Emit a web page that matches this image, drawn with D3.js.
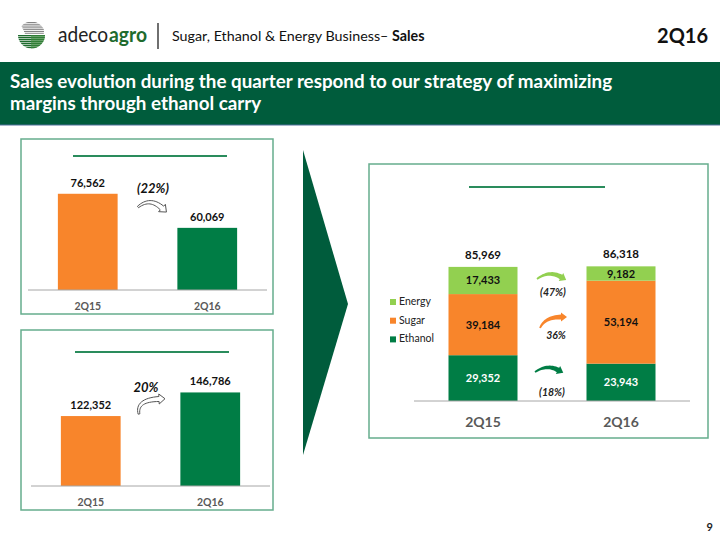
<!DOCTYPE html>
<html><head><meta charset="utf-8">
<script src="https://cdn.jsdelivr.net/npm/d3@7"></script>
<style>body{margin:0;background:#fff}svg{display:block}text{font-family:Lato,"Open Sans",sans-serif}</style>
</head><body>
<div id="chart"></div>
<script>
// ---- data ----
const categories = ["2Q15", "2Q16"];
const panelAValues = [76562, 60069];
const panelAChange = "(22%)";
const panelBValues = [122352, 146786];
const panelBChange = "20%";
const seriesNames = ["Ethanol", "Sugar", "Energy"];
const ethanol = [29352, 23943];
const sugar = [39184, 53194];
const energy = [17433, 9182];
const totals = [85969, 86318];
const seriesChanges = ["(18%)", "36%", "(47%)"];

const C = {orange:"#F8852B", green:"#007D45", light:"#92D050", dark:"#005C3C", border:"#66AD8D", title:"#2A8C5C", axis:"#A6A6A6", gray:"#595959"};
const fmt = d3.format(",");

const svg = d3.select("#chart").append("svg").attr("width",720).attr("height",540);

// ---- header ----
const defs = svg.append("defs");
defs.append("clipPath").attr("id","lc").append("circle").attr("cx",31.5).attr("cy",35).attr("r",13.5);
const lg = svg.append("g").attr("clip-path","url(#lc)");
lg.append("rect").attr("x",17).attr("y",21).attr("width",29).attr("height",29).attr("fill","#fff");
d3.range(7).forEach(i=>lg.append("rect").attr("x",20+i*0.8).attr("y",22+i*1.8).attr("width",25-i).attr("height",0.9).attr("fill","#777"));
d3.range(7).forEach(i=>lg.append("rect").attr("x",17).attr("y",35+i*2).attr("width",29).attr("height",1.4).attr("fill","#1E6B2E"));
lg.append("rect").attr("x",31).attr("y",35).attr("width",15).attr("height",15).attr("fill","#3D8A3D").attr("opacity",0.6);
svg.append("text").attr("x",58).attr("y",42).attr("font-size",21).attr("textLength",50).attr("lengthAdjust","spacingAndGlyphs")
  .attr("fill","#222").text("adeco");
svg.append("text").attr("x",109).attr("y",42).attr("font-size",21).attr("font-weight","bold").attr("textLength",38).attr("lengthAdjust","spacingAndGlyphs")
  .attr("fill","#1E6B2E").text("agro");
svg.append("line").attr("x1",158).attr("x2",158).attr("y1",23).attr("y2",49).attr("stroke","#222").attr("stroke-width",1.3);
const sub = svg.append("text").attr("x",172).attr("y",41).attr("font-size",14.3).attr("fill","#111");
sub.append("tspan").text("Sugar, Ethanol & Energy Business–  ");
sub.append("tspan").attr("font-weight","bold").text("Sales");
svg.append("text").attr("x",708).attr("y",43).attr("text-anchor","end").attr("font-size",20).attr("font-weight","bold").attr("fill","#111").text("2Q16");

// ---- banner ----
svg.append("rect").attr("x",0).attr("y",62).attr("width",720).attr("height",63).attr("fill",C.dark);
svg.append("line").attr("x1",0).attr("x2",720).attr("y1",125).attr("y2",125).attr("stroke","#4F6E9A").attr("stroke-width",1);
svg.append("text").attr("x",10).attr("y",88).attr("font-size",18.8).attr("font-weight","bold").attr("fill","#fff")
  .text("Sales evolution during the quarter respond to our strategy of maximizing");
svg.append("text").attr("x",10).attr("y",110).attr("font-size",18.8).attr("font-weight","bold").attr("fill","#fff")
  .text("margins through ethanol carry");

// ---- chevron ----
svg.append("path").attr("d","M303,150 L348,304 L303,455 Z").attr("fill",C.dark);

// ---- curved arrow helper ----
function curvedArrow(p0, pc, p2, t, hl, hw, fill, stroke){
  const q = (a,b,c,s)=> (1-s)*(1-s)*a + 2*(1-s)*s*b + s*s*c;
  const dq = (a,b,c,s)=> 2*(1-s)*(b-a) + 2*s*(c-b);
  const top=[], bot=[];
  for(let i=0;i<=16;i++){
    const s=i/16, x=q(p0[0],pc[0],p2[0],s), y=q(p0[1],pc[1],p2[1],s);
    let dx=dq(p0[0],pc[0],p2[0],s), dy=dq(p0[1],pc[1],p2[1],s); const L=Math.hypot(dx,dy); dx/=L; dy/=L;
    const w=(t/2)*(0.35+0.65*s);
    top.push([x+dy*w, y-dx*w]); bot.push([x-dy*w, y+dx*w]);
  }
  let dx=dq(p0[0],pc[0],p2[0],1), dy=dq(p0[1],pc[1],p2[1],1); const L=Math.hypot(dx,dy); dx/=L; dy/=L;
  const e=p2;
  const h1=[e[0]+dy*hw/2, e[1]-dx*hw/2], h2=[e[0]-dy*hw/2, e[1]+dx*hw/2], tip=[e[0]+dx*hl, e[1]+dy*hl];
  const pts = top.concat([h1, tip, h2]).concat(bot.reverse());
  svg.append("path").attr("d","M"+pts.map(p=>p.join(",")).join("L")+"Z")
    .attr("fill",fill).attr("stroke",stroke||"none").attr("stroke-width",stroke?1:0).attr("stroke-linejoin","round");
}

// ---- simple bar panel ----
function simplePanel(box, axisY, xr, dom, yr, values, change, chgPos, arrow, titleLine){
  svg.append("rect").attr("x",box[0]).attr("y",box[1]).attr("width",box[2]).attr("height",box[3])
    .attr("fill","none").attr("stroke",C.border).attr("stroke-width",1.5);
  svg.append("line").attr("x1",titleLine[0]).attr("x2",titleLine[1]).attr("y1",titleLine[2]).attr("y2",titleLine[2])
    .attr("stroke",C.title).attr("stroke-width",2);
  const x = d3.scaleBand().domain(categories).range(xr).paddingInner(0.5).paddingOuter(0.25);
  const y = d3.scaleLinear().domain(dom).range(yr);
  const cols=[C.orange, C.green];
  svg.append("g").selectAll("rect").data(values).join("rect")
    .attr("x",(d,i)=>x(categories[i])).attr("width",x.bandwidth())
    .attr("y",d=>y(d)).attr("height",d=>y(dom[0])-y(d)).attr("fill",(d,i)=>cols[i]);
  svg.append("g").selectAll("text").data(values).join("text")
    .attr("x",(d,i)=>x(categories[i])+x.bandwidth()/2).attr("y",d=>y(d)-7)
    .attr("text-anchor","middle").attr("font-size",11).attr("font-weight","bold").attr("fill","#111").text(d=>fmt(d));
  const ax = svg.append("g").attr("transform",`translate(0,${axisY})`).call(d3.axisBottom(x).tickSize(0).tickPadding(13));
  ax.select(".domain").attr("stroke",C.axis).attr("d",`M${xr[0]},0H${xr[1]}`);
  ax.selectAll("text").attr("font-size",10.5).attr("font-weight","bold").attr("fill",C.gray).attr("font-family","Lato,sans-serif");
  svg.append("text").attr("x",chgPos[0]).attr("y",chgPos[1]).attr("text-anchor","middle").attr("font-size",13)
    .attr("font-weight","bold").attr("font-style","italic").attr("fill","#111").text(change);
  curvedArrow(arrow[0],arrow[1],arrow[2],5,6,10,"#fff","#555");
}

simplePanel([21,139,252,175], 290, [28,267], [30000,90000], [290,166], panelAValues, panelAChange, [153,193],
  [[138,207],[150,197],[162,208]], [73,227,156]);
simplePanel([21,330,252,180], 486, [31,270], [50000,170000], [486,370], panelBValues, panelBChange, [146,392],
  [[139,414],[136,400],[159,399]], [75,229,352]);

// ---- stacked panel ----
svg.append("rect").attr("x",369).attr("y",164).attr("width",339).attr("height",274)
  .attr("fill","none").attr("stroke",C.border).attr("stroke-width",1.5);
svg.append("line").attr("x1",469).attr("x2",605).attr("y1",187).attr("y2",187).attr("stroke",C.title).attr("stroke-width",2);

const xS = d3.scaleBand().domain(categories).range([414,690]).paddingInner(0.5).paddingOuter(0.25);
const yS = d3.scaleLinear().domain([0,100000]).range([401,245]);
const rows = categories.map((c,i)=>({cat:c, Ethanol:ethanol[i], Sugar:sugar[i], Energy:energy[i]}));
const stack = d3.stack().keys(seriesNames)(rows);
const sCol = {Ethanol:C.green, Sugar:C.orange, Energy:C.light};
const sTxt = {Ethanol:"#fff", Sugar:"#111", Energy:"#111"};
const layers = svg.append("g").selectAll("g").data(stack).join("g").attr("fill",d=>sCol[d.key]);
layers.selectAll("rect").data(d=>d).join("rect")
  .attr("x",d=>xS(d.data.cat)).attr("width",xS.bandwidth())
  .attr("y",d=>yS(d[1])).attr("height",d=>yS(d[0])-yS(d[1]));
stack.forEach(layer=>{
  svg.append("g").selectAll("text").data(layer).join("text")
    .attr("x",d=>xS(d.data.cat)+xS.bandwidth()/2).attr("y",d=>(yS(d[0])+yS(d[1]))/2+4)
    .attr("text-anchor","middle").attr("font-size",11).attr("font-weight","bold").attr("fill",sTxt[layer.key])
    .text(d=>fmt(d[1]-d[0]));
});
svg.append("g").selectAll("text").data(totals).join("text")
  .attr("x",(d,i)=>xS(categories[i])+xS.bandwidth()/2).attr("y",(d,i)=>yS(d3.sum(stack,l=>l[i][1]-l[i][0]))-8)
  .attr("text-anchor","middle").attr("font-size",11.5).attr("font-weight","bold").attr("fill","#111").text(d=>fmt(d));
const axS = svg.append("g").attr("transform","translate(0,401)").call(d3.axisBottom(xS).tickSize(0).tickPadding(16));
axS.select(".domain").attr("stroke",C.axis).attr("d","M414,0H690");
axS.selectAll("text").attr("font-size",14).attr("font-weight","bold").attr("fill",C.gray).attr("font-family","Lato,sans-serif");

// legend
const legOrder = ["Energy","Sugar","Ethanol"];
const leg = svg.append("g").selectAll("g").data(legOrder).join("g")
  .attr("transform",(d,i)=>`translate(390,${305+i*18.7})`);
leg.append("rect").attr("x",0).attr("y",-6).attr("width",6).attr("height",6).attr("fill",d=>sCol[d]);
leg.append("text").attr("x",9).attr("y",0).attr("font-size",10.5).attr("fill","#222").text(d=>d);

// change arrows + labels
const chgPos = {Energy:[553,296], Sugar:[556,339], Ethanol:[552,396]};
const arrPts = {Energy:[[537,279],[549,270],[561,277]], Sugar:[[540,328],[545,317],[561,317]], Ethanol:[[535,372],[547,364],[558,370]]};
seriesNames.forEach((k,i)=>{
  curvedArrow(arrPts[k][0],arrPts[k][1],arrPts[k][2],5,6,9,sCol[k]);
  svg.append("text").attr("x",chgPos[k][0]).attr("y",chgPos[k][1]).attr("text-anchor","middle").attr("font-size",10.5)
    .attr("font-weight","bold").attr("font-style","italic").attr("fill","#222").text(seriesChanges[i]);
});

// page number
svg.append("text").attr("x",713).attr("y",531).attr("text-anchor","end").attr("font-size",11).attr("font-weight","bold").attr("fill","#222").text("9");
</script>
</body></html>
